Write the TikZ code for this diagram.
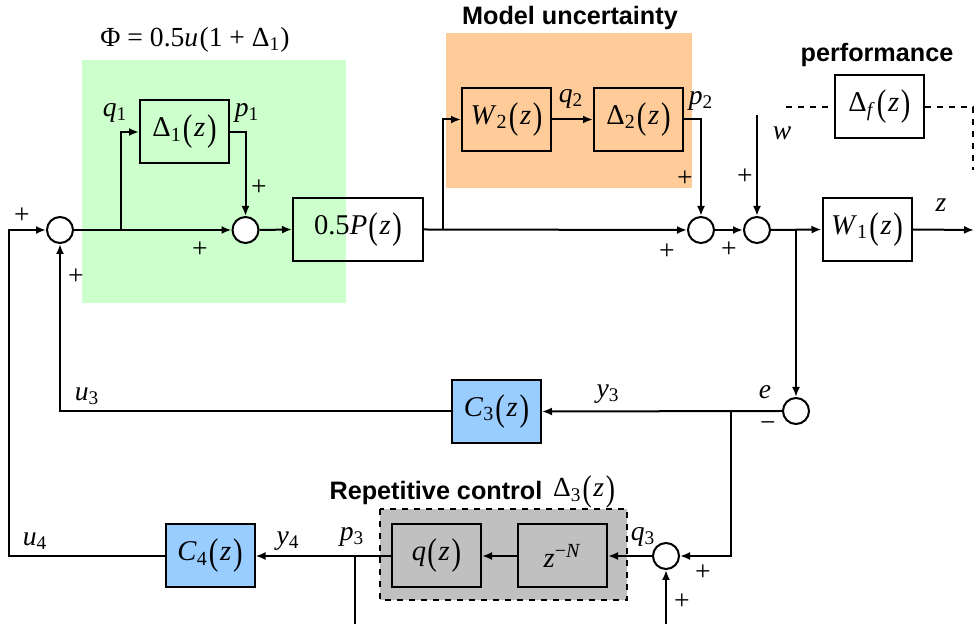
\documentclass[tikz,border=0pt]{standalone}
\usepackage{fontspec}
\usepackage{graphicx}
\setmainfont{Liberation Serif}
\newfontfamily\hdfont{Liberation Sans}
\usetikzlibrary{arrows.meta}
\definecolor{greenbg}{RGB}{204,255,204}
\definecolor{orangebg}{RGB}{255,204,153}
\definecolor{bluebox}{RGB}{153,204,255}
\definecolor{graybg}{RGB}{192,192,192}
\newcommand\lpar{\raisebox{-0.14em}{\scalebox{1}[1.3]{(}}}
\newcommand\rpar{\raisebox{-0.14em}{\scalebox{1}[1.3]{)}}}
\newcommand\ofz{\kern0.04em\lpar\kern0.06em\textit{z}\kern0.06em\rpar}
\newcommand\sub[1]{\textsubscript{#1}}
\tikzset{
  blk/.style={draw, line width=1pt, minimum width=44.5pt, minimum height=31.5pt, inner sep=0pt, font=\fontsize{14.3}{16}\selectfont},
  sumc/.style={draw, circle, line width=1pt, minimum size=13pt, inner sep=0pt, fill=white},
  lab/.style={font=\fontsize{13.8}{16}\selectfont, inner sep=0pt},
  hd/.style={font=\hdfont\bfseries\fontsize{12.6}{14}\selectfont, inner sep=0pt},
  wire/.style={line width=1pt},
  arr/.style={line width=1pt, -{Latex[length=5pt,width=4pt]}},
}
\begin{document}
\begin{tikzpicture}[x=0.5pt,y=-0.5pt]
\useasboundingbox (0,0) rectangle (976,624);
% backgrounds
\fill[greenbg] (82,60) rectangle (346,303);
\fill[orangebg] (446,33) rectangle (692,188);
\draw[dashed, fill=graybg, line width=0.8pt] (380,509) rectangle (627,600);

% blocks
\node[sumc] (s1) at (60,230) {};
\node[blk] (d1) at (184.5,132) {Δ\sub{1}\ofz};
\node[sumc] (s2) at (245.5,230) {};
\node[blk, minimum width=65pt] (P) at (358,229.5) {0.5\textit{P}\ofz};
\node[blk] (W2) at (506.5,119.5) {\textit{W}\sub{2}\ofz};
\node[blk] (D2) at (638.5,119.5) {Δ\sub{2}\ofz};
\node[sumc] (s3) at (701,230) {};
\node[sumc] (s4) at (757,230) {};
\node[blk] (W1) at (867,229.5) {\textit{W}\sub{1}\ofz};
\node[blk] (Df) at (879.5,107) {Δ\textsubscript{\textit{f}}\ofz};
\node[sumc] (se) at (796,411) {};
\node[blk, fill=bluebox] (C3) at (496.5,411.5) {\textit{C}\sub{3}\ofz};
\node[sumc] (sq) at (666,556) {};
\node[blk] (zN) at (562.5,556) {\textit{z}\textsuperscript{−\textit{N}}};
\node[blk] (qz) at (436.5,556) {\textit{q}\ofz};
\node[blk, fill=bluebox] (C4) at (210,556) {\textit{C}\sub{4}\ofz};

% coordinates
\coordinate (b1) at (121,230);
\coordinate (b2) at (443,230);
\coordinate (b3) at (796,230);
\coordinate (b4) at (731,411);
\coordinate (b5) at (355,556);
\coordinate (b5end) at (355,624);
\coordinate (wtop) at (757,115);
\coordinate (zend) at (974,230);
\coordinate (dl) at (786,107);
\coordinate (dr) at (973,170);
\coordinate (l4) at (9,230);
\coordinate (bot) at (666,624);

% connectors
\draw[arr] (s1.east) -- (s2.west);
\draw[arr] (b1) |- (d1.west);
\draw[arr] (d1.east) -| (s2.north);
\draw[arr] (s2.east) -- (P.west);
\draw[arr] (P.east) -- (s3.west);
\draw[arr] (b2) |- (W2.west);
\draw[arr] (W2.east) -- (D2.west);
\draw[arr] (D2.east) -| (s3.north);
\draw[arr] (s3.east) -- (s4.west);
\draw[arr] (wtop) -- (s4.north);
\draw[arr] (s4.east) -- (W1.west);
\draw[arr] (b3) -- (se.north);
\draw[arr] (W1.east) -- (zend);
\draw[dashed, line width=0.8pt] (dl) -- (Df.west);
\draw[dashed, line width=0.8pt] (Df.east) -| (dr);
\draw[arr] (se.west) -- (C3.east);
\draw[arr] (C3.west) -| (s1.south);
\draw[arr] (b4) |- (sq.east);
\draw[arr] (bot) -- (sq.south);
\draw[arr] (sq.west) -- (zN.east);
\draw[arr] (zN.west) -- (qz.east);
\draw[arr] (qz.west) -- (C4.east);
\draw[wire] (b5) -- (b5end);
\draw[arr] (C4.west) -| (l4) -- (s1.west);

% labels
\node[lab] (phi) at (195,40) {Φ = 0.5\textit{u}\kern0.05em(1 + Δ\sub{1})};
\node[hd] (mu) at (570,18) {Model uncertainty};
\node[hd] (perf) at (877,55) {performance};
\node[hd] (rep) at (436,493) {Repetitive control};
\node[lab] (d3) at (584,492) {Δ\sub{3}\ofz};
\node[lab] (lq1) at (115,113) {\textit{q}\sub{1}};
\node[lab] (lp1) at (247,113) {\textit{p}\sub{1}};
\node[lab] (lq2) at (571,99) {\textit{q}\sub{2}};
\node[lab] (lp2) at (701,101) {\textit{p}\sub{2}};
\node[lab] (lw) at (782,133) {\textit{w}};
\node[lab] (lz) at (941,205) {\textit{z}};
\node[lab] (le) at (765,392) {\textit{e}};
\node[lab] (lm) at (768,427) {−};
\node[lab] (lu3) at (87,396) {\textit{u}\sub{3}};
\node[lab] (ly3) at (608,394) {\textit{y}\sub{3}};
\node[lab] (lu4) at (35,541) {\textit{u}\sub{4}};
\node[lab] (ly4) at (288,541) {\textit{y}\sub{4}};
\node[lab] (lp3) at (352,537) {\textit{p}\sub{3}};
\node[lab] (lq3) at (643,537) {\textit{q}\sub{3}};
\node[lab] (pl1) at (22,216) {+};
\node[lab] (pl2) at (76,277) {+};
\node[lab] (pl3) at (259,188) {+};
\node[lab] (pl4) at (200,250) {+};
\node[lab] (pl5) at (685,179) {+};
\node[lab] (pl6) at (667,252) {+};
\node[lab] (pl7) at (729,250) {+};
\node[lab] (pl8) at (745,177) {+};
\node[lab] (pl9) at (703,573) {+};
\node[lab] (pl10) at (682,602) {+};
\end{tikzpicture}
\end{document}
